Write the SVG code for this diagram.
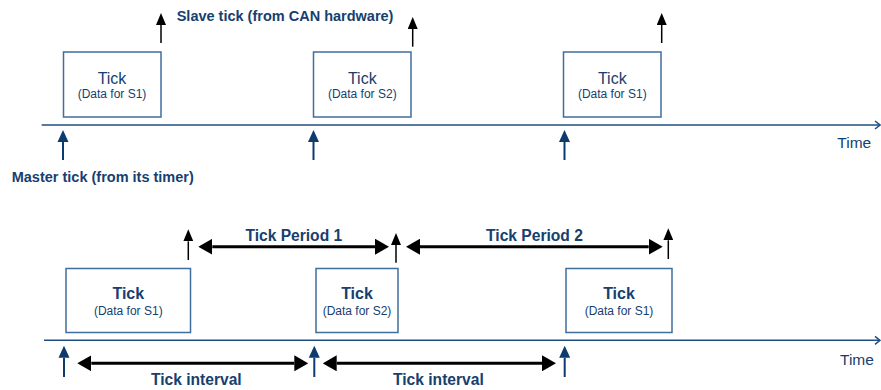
<svg xmlns="http://www.w3.org/2000/svg" width="881" height="390" viewBox="0 0 881 390">
<style>
text{font-family:"Liberation Sans",Arial,sans-serif;fill:#16406F}
.b{font-weight:bold}
.lbl{font-size:14.5px;font-weight:bold}
.per{font-size:15.6px;font-weight:bold}
.time{font-size:15.5px}
.t1{font-size:16px}
.sub{font-size:12px}
.box{fill:#fff;stroke:#3F6D9C;stroke-width:1.5}
.axis{stroke:#1F4E7E;stroke-width:1.5;fill:none}
.master{stroke:#0E3B6E;stroke-width:2}
.slave{stroke:#000;stroke-width:1.5}
.dbl{stroke:#000;stroke-width:3}
</style>
<defs>
<marker id="mh" markerUnits="userSpaceOnUse" markerWidth="12" markerHeight="12" refX="0" refY="6" orient="auto" viewBox="0 0 12 12"><path d="M0,0.5 L12,6 L0,11.5z" fill="#0E3B6E"/></marker>
<marker id="sh" markerUnits="userSpaceOnUse" markerWidth="12" markerHeight="10" refX="0" refY="5" orient="auto" viewBox="0 0 12 10"><path d="M0,0 L12,5 L0,10z" fill="#000"/></marker>
<marker id="dh" markerUnits="userSpaceOnUse" markerWidth="14" markerHeight="16" refX="0" refY="8" orient="auto-start-reverse" viewBox="0 0 14 16"><path d="M0,0 L14,8 L0,16z" fill="#000"/></marker>
</defs>

<g id="node-top-tick1"><rect class="box" x="63.5" y="52" width="97.5" height="65"/><text class="t1" x="112" y="83.5" text-anchor="middle">Tick</text><text class="sub" x="112" y="98" text-anchor="middle">(Data for S1)</text></g>
<g id="node-top-tick2"><rect class="box" x="313.5" y="52" width="97.5" height="65"/><text class="t1" x="362.3" y="83.5" text-anchor="middle">Tick</text><text class="sub" x="362.3" y="98" text-anchor="middle">(Data for S2)</text></g>
<g id="node-top-tick3"><rect class="box" x="563.5" y="52" width="97.5" height="65"/><text class="t1" x="612.3" y="83.5" text-anchor="middle">Tick</text><text class="sub" x="612.3" y="98" text-anchor="middle">(Data for S1)</text></g>

<g id="node-bot-tick1"><rect class="box" x="66" y="268.5" width="124.5" height="64"/><text class="t1 b" x="128.3" y="299" text-anchor="middle">Tick</text><text class="sub" x="128.3" y="315" text-anchor="middle">(Data for S1)</text></g>
<g id="node-bot-tick2"><rect class="box" x="316" y="268.5" width="82" height="64"/><text class="t1 b" x="357" y="299" text-anchor="middle">Tick</text><text class="sub" x="357" y="315" text-anchor="middle">(Data for S2)</text></g>
<g id="node-bot-tick3"><rect class="box" x="566" y="268.5" width="106" height="64"/><text class="t1 b" x="619" y="299" text-anchor="middle">Tick</text><text class="sub" x="619" y="315" text-anchor="middle">(Data for S1)</text></g>

<g id="labels">
<text class="lbl" x="176.7" y="20.7">Slave tick (from CAN hardware)</text>
<text class="lbl" x="11.7" y="181.7">Master tick (from its timer)</text>
<text class="time" x="837.3" y="148.3">Time</text>
<text class="time" x="840" y="365">Time</text>
<text class="per" x="293.8" y="240.7" text-anchor="middle">Tick Period 1</text>
<text class="per" x="534.5" y="240.7" text-anchor="middle">Tick Period 2</text>
<text class="per" x="196.3" y="385" text-anchor="middle">Tick interval</text>
<text class="per" x="438.4" y="385" text-anchor="middle">Tick interval</text>
</g>

<g id="connectors">
<line class="axis" x1="41.7" y1="125" x2="880" y2="125"/>
<polyline class="axis" points="875,121 880,125 875,129"/>
<line class="axis" x1="44" y1="340.3" x2="880" y2="340.3"/>
<polyline class="axis" points="875,336.3 880,340.3 875,344.3"/>

<line class="master" x1="63" y1="160" x2="63" y2="142" marker-end="url(#mh)"/>
<line class="master" x1="313.5" y1="160" x2="313.5" y2="142" marker-end="url(#mh)"/>
<line class="master" x1="564.5" y1="160" x2="564.5" y2="142" marker-end="url(#mh)"/>
<line class="master" x1="64" y1="377" x2="64" y2="357.7" marker-end="url(#mh)"/>
<line class="master" x1="314.3" y1="377" x2="314.3" y2="357.7" marker-end="url(#mh)"/>
<line class="master" x1="564.7" y1="377" x2="564.7" y2="357.7" marker-end="url(#mh)"/>

<line class="slave" x1="161" y1="43" x2="161" y2="25" marker-end="url(#sh)"/>
<line class="slave" x1="412.7" y1="46.7" x2="412.7" y2="29" marker-end="url(#sh)"/>
<line class="slave" x1="661.7" y1="43" x2="661.7" y2="25" marker-end="url(#sh)"/>
<line class="slave" x1="188.3" y1="260" x2="188.3" y2="241.3" marker-end="url(#sh)"/>
<line class="slave" x1="396" y1="262.7" x2="396" y2="245" marker-end="url(#sh)"/>
<line class="slave" x1="668.3" y1="259" x2="668.3" y2="240.3" marker-end="url(#sh)"/>

<line class="dbl" x1="212.3" y1="246.7" x2="375" y2="246.7" marker-start="url(#dh)" marker-end="url(#dh)"/>
<line class="dbl" x1="420" y1="246.7" x2="648.7" y2="246.7" marker-start="url(#dh)" marker-end="url(#dh)"/>
<line class="dbl" x1="91.3" y1="363.3" x2="294.3" y2="363.3" marker-start="url(#dh)" marker-end="url(#dh)"/>
<line class="dbl" x1="336.7" y1="363.3" x2="542" y2="363.3" marker-start="url(#dh)" marker-end="url(#dh)"/>
</g>
</svg>
